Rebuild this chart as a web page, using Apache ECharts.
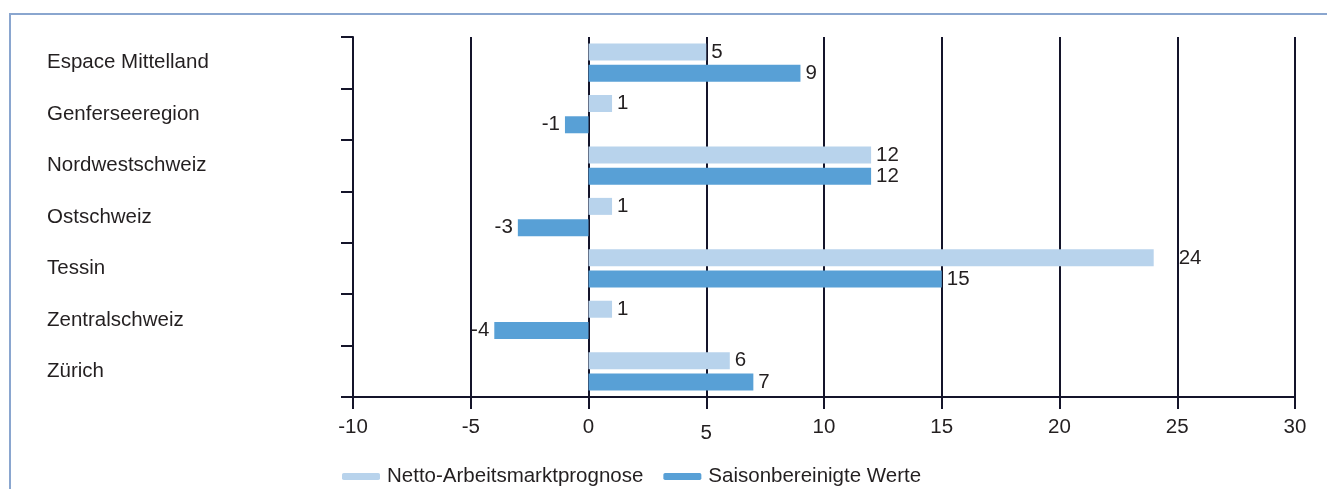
<!DOCTYPE html>
<html><head><meta charset="utf-8">
<script src="https://cdn.jsdelivr.net/npm/echarts@6/dist/echarts.min.js"></script>
<style>html,body{margin:0;padding:0;background:#fff}#c{width:1327px;height:489px}</style>
</head><body><div id="c"></div>
<script>
const categories = ['Espace Mittelland','Genferseeregion','Nordwestschweiz','Ostschweiz','Tessin','Zentralschweiz','Zürich'];
const netto = [5, 1, 12, 1, 24, 1, 6];
const saison = [9, -1, 12, -3, 15, -4, 7];
const seriesNames = ['Netto-Arbeitsmarktprognose', 'Saisonbereinigte Werte'];
const xMin = -10, xMax = 30, xStep = 5;

const FONT = '"Liberation Sans", Arial, sans-serif';
const FS = 20.5;
const TXT = '#231f20';
const LINE = '#14142a';

function build(arr){
  return arr.map(v => {
    const o = {value: v, label: {position: v < 0 ? 'left' : 'right'}};
    if (v > 20) o.label.offset = [20, 1];
    return o;
  });
}

const chart = echarts.init(document.getElementById('c'), null, {renderer:'canvas'});
chart.setOption({
  animation: false,
  textStyle: {fontFamily: FONT},
  graphic: [
    {type:'polyline', shape:{points:[[10,489],[10,14],[1327,14]]}, style:{stroke:'#8aa6cf', lineWidth:2, fill:null}}
  ],
  legend: {
    left: 337, top: 461,
    itemWidth: 38, itemHeight: 7, itemGap: 20,
    icon: 'roundRect',
    textStyle: {fontSize: FS, color: TXT, fontFamily: FONT, padding:[0,0,0,2]},
    data: seriesNames
  },
  grid: {left: 353, right: 32, top: 37, bottom: 92, containLabel: false},
  xAxis: {
    type: 'value', min: xMin, max: xMax, interval: xStep,
    axisLine: {show: true, onZero: false, lineStyle: {color: LINE, width: 2}},
    axisTick: {show: true, length: 12, lineStyle: {color: LINE, width: 2}},
    splitLine: {show: true, lineStyle: {color: LINE, width: 2}},
    axisLabel: {
      fontSize: FS, color: TXT, margin: 20, fontFamily: FONT,
      formatter: v => v === 5 ? '{low|5}' : String(v),
      rich: {low: {fontSize: FS, color: TXT, fontFamily: FONT, padding: [6,0,0,0]}}
    }
  },
  yAxis: {
    type: 'category', data: categories, inverse: true,
    axisLine: {show: true, onZero: false, lineStyle: {color: LINE, width: 2}},
    axisTick: {show: true, length: 12, lineStyle: {color: LINE, width: 2}},
    axisLabel: {fontSize: FS, color: TXT, align: 'left', margin: 306, fontFamily: FONT}
  },
  series: [
    {name: seriesNames[0], type: 'bar', data: build(netto), barWidth: 17, barGap: '25%',
     itemStyle: {color: '#b8d3ec'},
     label: {show: true, fontSize: FS, color: TXT, distance: 5, fontFamily: FONT}},
    {name: seriesNames[1], type: 'bar', data: build(saison), barWidth: 17, barGap: '25%',
     itemStyle: {color: '#58a0d6'},
     label: {show: true, fontSize: FS, color: TXT, distance: 5, fontFamily: FONT}}
  ]
});
</script></body></html>
